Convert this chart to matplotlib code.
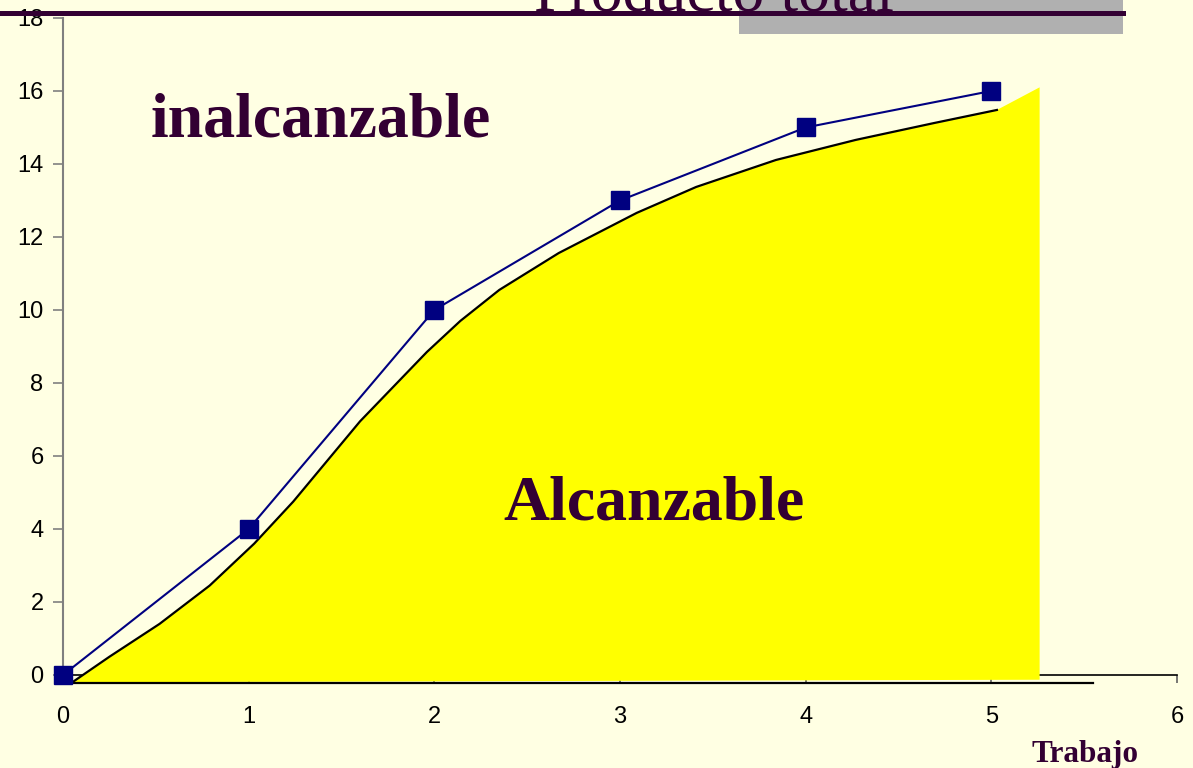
import matplotlib.pyplot as plt
from matplotlib.patches import Polygon, Rectangle
from matplotlib.lines import Line2D

# Producto total: trabajo vs producto
trabajo = [0, 1, 2, 3, 4, 5]
producto = [0, 4, 10, 13, 15, 16]

# frontera (curva negra)
frontera_x = [0.05, 0.25, 0.52, 0.79, 1.03, 1.24, 1.42, 1.60, 1.78, 1.96,
              2.14, 2.35, 2.67, 3.09, 3.41, 3.84, 4.27, 4.69, 5.03]
frontera_y = [-0.2, 0.5, 1.4, 2.45, 3.6, 4.75, 5.85, 6.95, 7.9, 8.85,
              9.7, 10.55, 11.56, 12.66, 13.37, 14.11, 14.66, 15.12, 15.48]

# esquina derecha del area amarilla
area_x = [5.26, 5.26]
area_y = [16.1, -0.13]

xticks = [0, 1, 2, 3, 4, 5, 6]
yticks = [0, 2, 4, 6, 8, 10, 12, 14, 16, 18]

bg = '#FFFFE3'
purple = '#330033'

fig = plt.figure(figsize=(11.93, 7.68), dpi=100, facecolor=bg)
ax = fig.add_axes([0.0528, 0.1211, 0.9338, 0.8555])
ax.set_facecolor(bg)

ax.set_xlim(0, 6)
ax.set_ylim(0, 18)

# area alcanzable
pts = list(zip(frontera_x, frontera_y)) + list(zip(area_x, area_y))
ax.add_patch(Polygon(pts, closed=True, facecolor='#FFFF00', edgecolor='none',
                     zorder=3, clip_on=False))
ax.plot(frontera_x, frontera_y, color='black', linewidth=1.6, zorder=4, clip_on=False,
        solid_joinstyle='round')
ax.plot([0.05, 5.55], [-0.22, -0.22], color='black', linewidth=1.6, zorder=4, clip_on=False)

ax.plot(trabajo, producto, color='#000080', linewidth=1.5, marker='s',
        markersize=13, markerfacecolor='#000080', markeredgecolor='#000080',
        zorder=5, clip_on=False)

ax.text(0.47, 14.74, 'inalcanzable', fontsize=46, fontweight='bold',
        family='Liberation Serif', color=purple, va='baseline', ha='left', zorder=6)
ax.text(2.37, 4.25, 'Alcanzable', fontsize=46, fontweight='bold',
        family='Liberation Serif', color=purple, va='baseline', ha='left', zorder=6)

ax.spines['top'].set_visible(False)
ax.spines['right'].set_visible(False)
ax.spines['left'].set_color('#808080')
ax.spines['left'].set_linewidth(1.5)
ax.spines['bottom'].set_color('black')
ax.spines['bottom'].set_linewidth(1.2)

ax.set_xticks(xticks)
ax.set_yticks(yticks)
ax.tick_params(axis='y', direction='out', length=7, width=1.2, color='#808080',
               pad=7, labelsize=17, labelcolor='black')
ax.tick_params(axis='x', direction='out', length=6, width=1.2, color='#606060',
               pad=16, labelsize=17, labelcolor='black')
for lab in ax.get_xticklabels() + ax.get_yticklabels():
    lab.set_family('Liberation Sans')

# titulo recortado arriba
fig.add_artist(Rectangle((739 / 1193, 1 - 34 / 768), (1123 - 739) / 1193, 34 / 768,
                         transform=fig.transFigure, facecolor='#B0B0B0',
                         edgecolor='none', zorder=1))
fig.text(714 / 1193, 1 - 11 / 768, 'Producto total', fontsize=46,
         family='Liberation Serif', color=purple, ha='center', va='baseline', zorder=2)
fig.add_artist(Line2D([0, 1123 / 1193], [1 - 12.5 / 768, 1 - 12.5 / 768],
                      transform=fig.transFigure, color=purple, linewidth=3.6, zorder=3))

fig.text(1085 / 1193, 6 / 768, 'Trabajo', fontsize=22.5, fontweight='bold',
         family='Liberation Serif', color=purple, ha='center', va='baseline')

fig.savefig('out.png', dpi=100, facecolor=bg)
